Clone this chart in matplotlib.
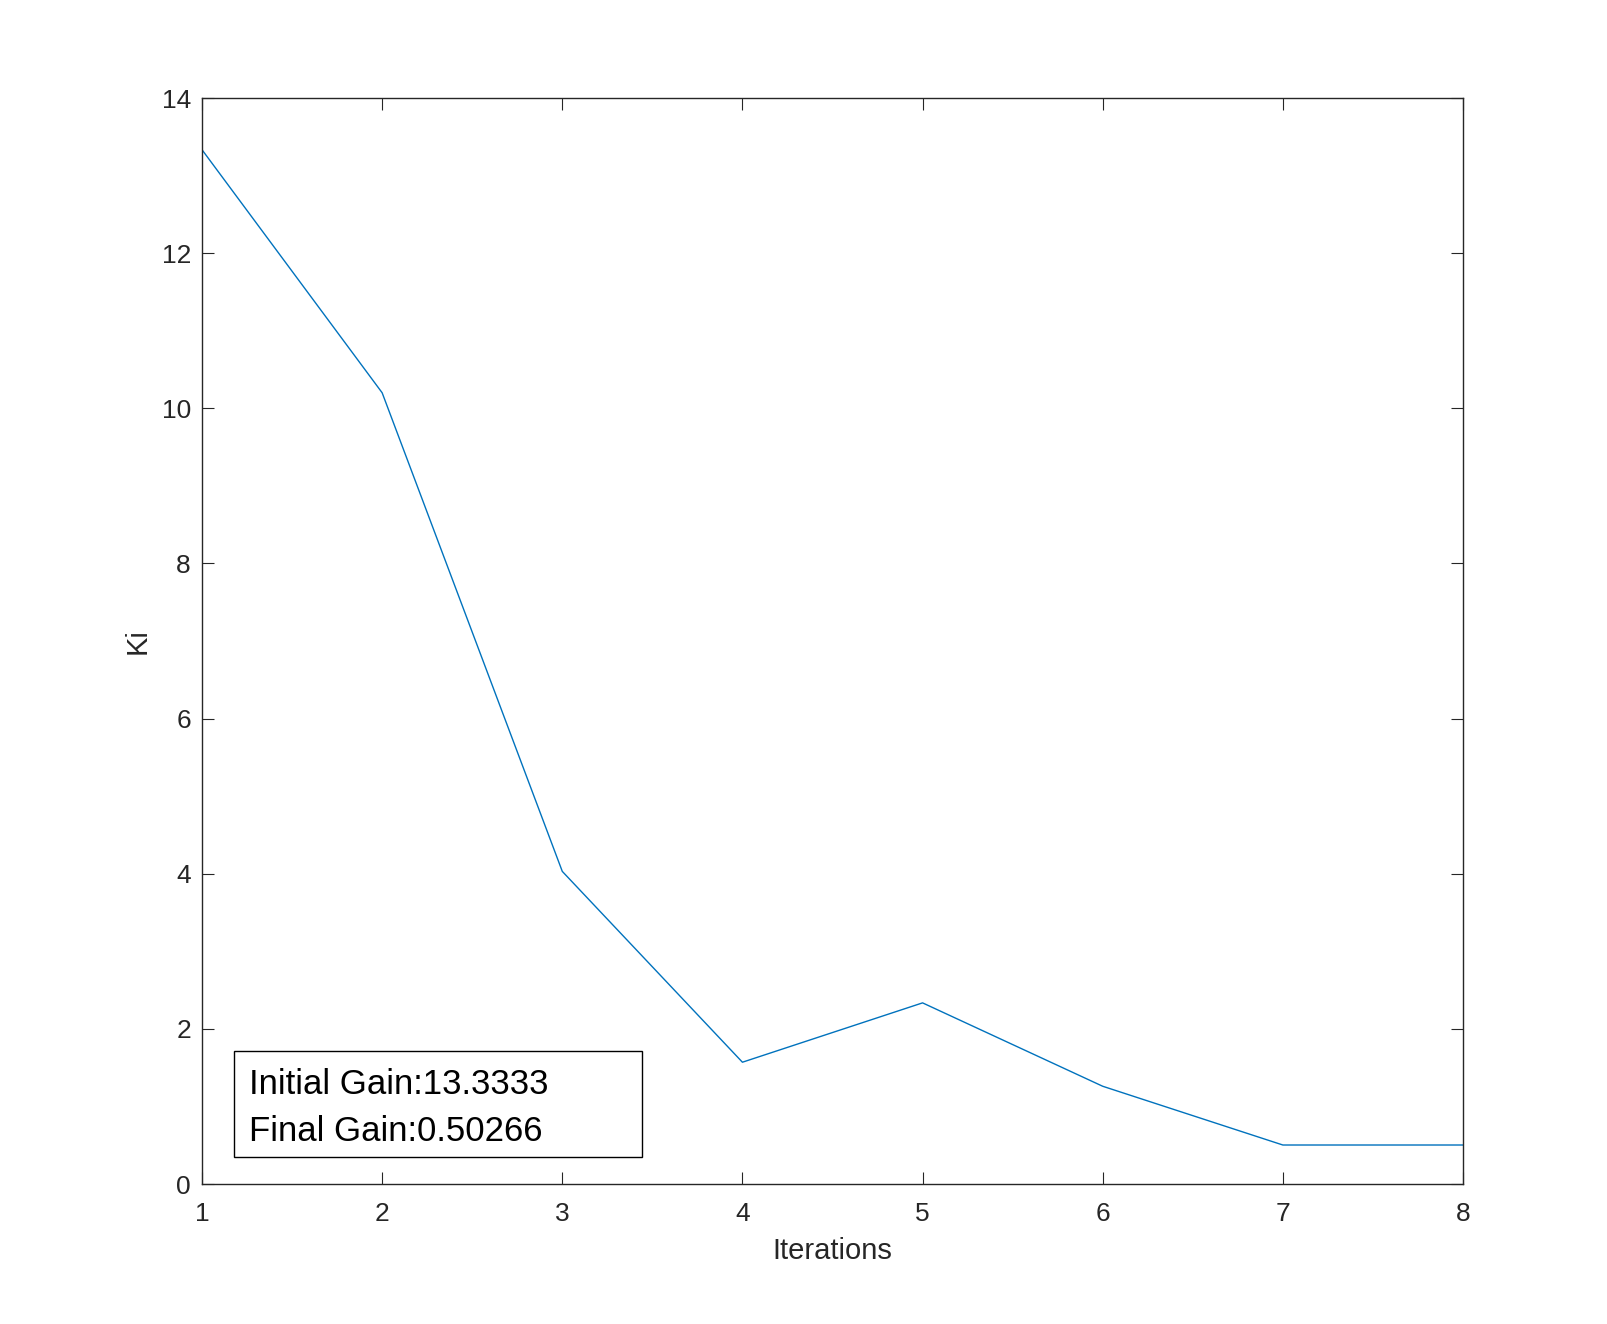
import matplotlib.pyplot as plt
from matplotlib.patches import Rectangle

plt.rcParams['font.family'] = ['Liberation Sans', 'DejaVu Sans']

iterations = [1, 2, 3, 4, 5, 6, 7, 8]
ki = [13.3333, 10.20, 4.03, 1.57, 2.335, 1.26, 0.50266, 0.50266]
x_ticks = [1, 2, 3, 4, 5, 6, 7, 8]
y_ticks = [0, 2, 4, 6, 8, 10, 12, 14]
box_lines = ['Initial Gain:13.3333', 'Final Gain:0.50266']

line_color = (0, 0.447, 0.741)
axis_color = (0.15, 0.15, 0.15)

fig = plt.figure(figsize=(16.08, 13.24), dpi=100)
ax = fig.add_axes([202 / 1608, 1 - 1184 / 1324, (1463 - 202) / 1608, (1184 - 98) / 1324])

ax.plot(iterations, ki, color=line_color, linewidth=1.0)

ax.set_xlim(1, 8)
ax.set_ylim(0, 14)
ax.set_xticks(x_ticks)
ax.set_yticks(y_ticks)
ax.tick_params(direction='in', length=8.5, width=0.8, top=True, right=True,
               labelsize=19, colors=axis_color)
ax.tick_params(axis='x', pad=13)
ax.tick_params(axis='y', pad=8)
for s in ax.spines.values():
    s.set_color(axis_color)
    s.set_linewidth(1.0)

ax.set_xlabel('Iterations', fontsize=21, color=axis_color, labelpad=8)
ax.set_ylabel('Ki', fontsize=21, color=axis_color, labelpad=7)

# annotation box (MATLAB-style fixed-size textbox)
ax.add_patch(Rectangle((0.0254, 0.0249), 0.3236, 0.0976, transform=ax.transAxes,
                       facecolor='white', edgecolor='black', linewidth=1.0, zorder=3))
ax.text(0.0373, 0.0915, box_lines[0], transform=ax.transAxes, fontsize=25,
        color='black', va='center', ha='left', zorder=4)
ax.text(0.0373, 0.0485, box_lines[1], transform=ax.transAxes, fontsize=25,
        color='black', va='center', ha='left', zorder=4)

plt.savefig('out.png', dpi=100)
